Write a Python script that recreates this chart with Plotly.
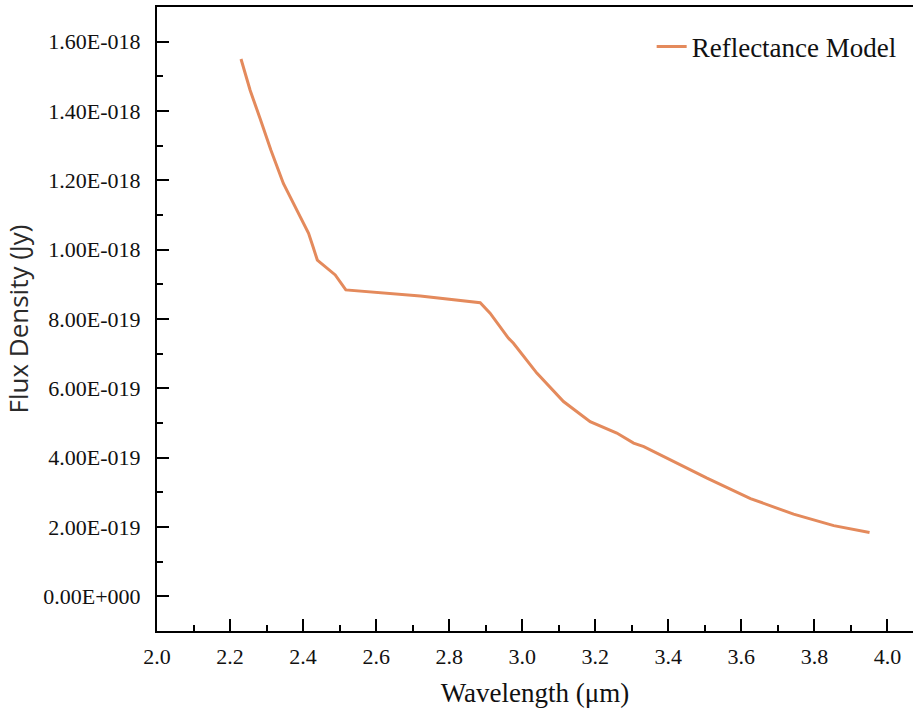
import plotly.graph_objects as go

wavelength = [2.23, 2.255, 2.282, 2.312, 2.346, 2.383, 2.415, 2.427, 2.439, 2.488, 2.517,
              2.721, 2.885, 2.912, 2.962, 2.976, 3.040, 3.113, 3.186, 3.259, 3.305, 3.333,
              3.387, 3.460, 3.506, 3.625, 3.743, 3.853, 3.951]
flux = [1.55e-18, 1.46e-18, 1.379e-18, 1.287e-18, 1.191e-18, 1.114e-18, 1.047e-18, 1.009e-18,
        0.970e-18, 0.927e-18, 0.884e-18, 0.8666e-18, 0.847e-18, 0.817e-18, 0.745e-18,
        0.730e-18, 0.644e-18, 0.562e-18, 0.504e-18, 0.471e-18, 0.442e-18, 0.432e-18,
        0.403e-18, 0.365e-18, 0.341e-18, 0.282e-18, 0.237e-18, 0.204e-18, 0.184e-18]

y_tickvals = [0, 2e-19, 4e-19, 6e-19, 8e-19, 1.0e-18, 1.2e-18, 1.4e-18, 1.6e-18]
y_ticktext = ["0.00E+000", "2.00E-019", "4.00E-019", "6.00E-019", "8.00E-019",
              "1.00E-018", "1.20E-018", "1.40E-018", "1.60E-018"]
x_tickvals = [2.0, 2.2, 2.4, 2.6, 2.8, 3.0, 3.2, 3.4, 3.6, 3.8, 4.0]
x_ticktext = ["2.0", "2.2", "2.4", "2.6", "2.8", "3.0", "3.2", "3.4", "3.6", "3.8", "4.0"]

serif = "Liberation Serif"

fig = go.Figure()
fig.add_trace(go.Scatter(x=wavelength, y=flux, mode="lines", name="Reflectance Model",
                         line=dict(color="#E48A5C", width=3)))

fig.update_layout(
    width=913, height=716,
    margin=dict(l=157, r=0, t=7, b=85),
    plot_bgcolor="white", paper_bgcolor="white",
    showlegend=True,
    legend=dict(x=0.985, xanchor="right", y=0.936, yanchor="middle",
                font=dict(family=serif, size=27, color="#111"),
                bgcolor="rgba(0,0,0,0)"),
    xaxis=dict(range=[2.0, 4.07], tickvals=x_tickvals, ticktext=x_ticktext,
               showline=True, linecolor="black", linewidth=2, mirror=True,
               ticks="inside", ticklen=12, tickwidth=2, tickcolor="black",
               minor=dict(ticks="inside", ticklen=6, tickwidth=2, tickcolor="black",
                          dtick=0.1, tick0=2.0),
               showgrid=False, zeroline=False,
               tickfont=dict(family=serif, size=22, color="#111"),
               ticklabelstandoff=5,
               title=dict(text="Wavelength (μm)", font=dict(family=serif, size=27, color="#111"),
                          standoff=15)),
    yaxis=dict(range=[-1e-19, 1.7e-18], tickvals=y_tickvals, ticktext=y_ticktext,
               showline=True, linecolor="black", linewidth=2, mirror=False,
               ticks="inside", ticklen=12, tickwidth=2, tickcolor="black",
               minor=dict(ticks="inside", ticklen=6, tickwidth=2, tickcolor="black",
                          dtick=1e-19, tick0=0),
               showgrid=False, zeroline=False,
               tickfont=dict(family=serif, size=22, color="#111"),
               ticklabelstandoff=10,
               title=dict(text="Flux Density (Jy)", font=dict(family="Open Sans", size=26, color="#2a2a2a"),
                          standoff=10)),
)

fig.write_html("out.html")
